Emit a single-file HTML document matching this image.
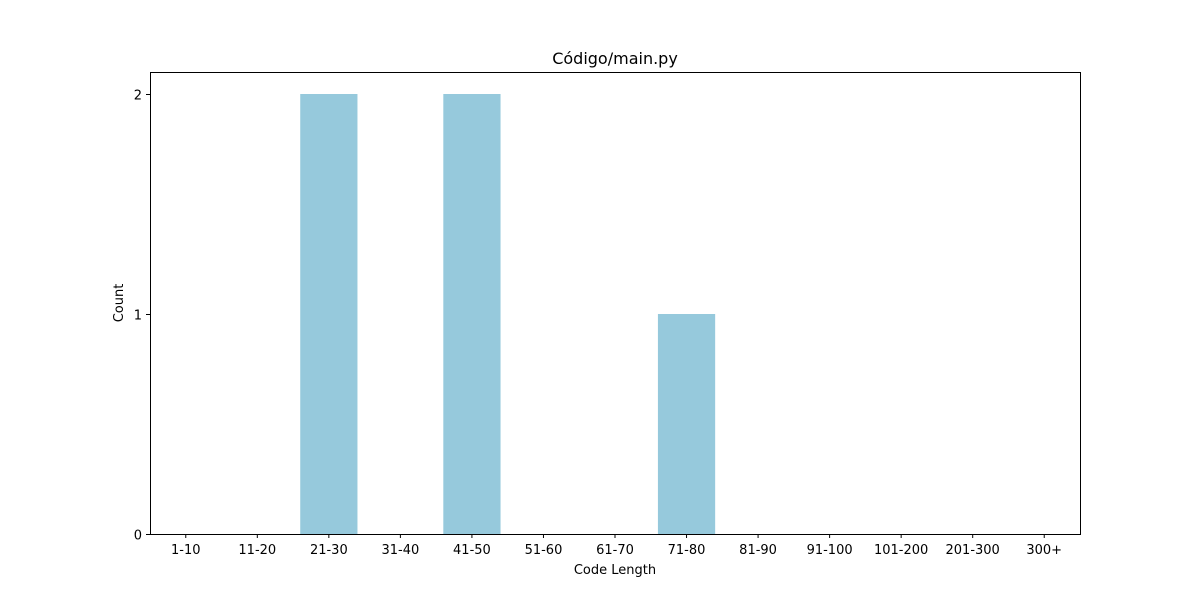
<!DOCTYPE html>
<html><head><meta charset="utf-8"><style>
body{margin:0;background:#fff;font-family:"Liberation Sans","DejaVu Sans",sans-serif;}
svg text{font-family:"DejaVu Sans","Liberation Sans",sans-serif;font-size:13px;fill:#000;}
</style></head><body>
<svg id="chart" width="1200" height="600">
<text x="615" y="64" text-anchor="middle" style="font-size:16px">Código/main.py</text>
<g id="bars"></g>
<rect x="150.5" y="72.5" width="930" height="462" fill="none" stroke="#000" stroke-width="1"/>
<g id="xt"></g><g id="yt"></g>
<text x="615" y="574" text-anchor="middle">Code Length</text>
<text transform="translate(123,303) rotate(-90)" text-anchor="middle">Count</text>
</svg>
<script>
const categories=["1-10","11-20","21-30","31-40","41-50","51-60","61-70","71-80","81-90","91-100","101-200","201-300","300+"];
const counts=[0,0,2,0,2,0,0,1,0,0,0,0,0];
const yTicks=[0,1,2];
const L=150,R=1080,T=72,B=534,yMax=2.1;
const step=(R-L)/categories.length;
const xs=i=>L+step*(i+0.5);
const ys=v=>B-(B-T)*v/yMax;
const NS="http://www.w3.org/2000/svg";
const bars=document.getElementById('bars'),xt=document.getElementById('xt'),yt=document.getElementById('yt');
categories.forEach((c,i)=>{
  const v=counts[i];
  const r=document.createElementNS(NS,'rect');
  r.setAttribute('x',xs(i)-step*0.4);r.setAttribute('width',step*0.8);
  r.setAttribute('y',ys(v));r.setAttribute('height',B-ys(v));r.setAttribute('fill','#96c9dc');
  
  
  bars.appendChild(r);
  const l=document.createElementNS(NS,'line');
  l.setAttribute('x1',xs(i));l.setAttribute('x2',xs(i));l.setAttribute('y1',B);l.setAttribute('y2',B+4);l.setAttribute('stroke','#000');
  
  
  xt.appendChild(l);
  const t=document.createElementNS(NS,'text');
  t.setAttribute('x',xs(i));t.setAttribute('y',B+20);t.setAttribute('text-anchor','middle');t.textContent=c;
  
  
  xt.appendChild(t);
});
yTicks.forEach(v=>{
  const y=Math.round(ys(v))+0.5;
  const l=document.createElementNS(NS,'line');
  l.setAttribute('x1',L-4);l.setAttribute('x2',L);l.setAttribute('y1',y);l.setAttribute('y2',y);l.setAttribute('stroke','#000');
  
  
  yt.appendChild(l);
  const t=document.createElementNS(NS,'text');
  t.setAttribute('x',L-8);t.setAttribute('y',y+5);t.setAttribute('text-anchor','end');t.textContent=v;
  
  
  yt.appendChild(t);
});
</script>
</body></html>
